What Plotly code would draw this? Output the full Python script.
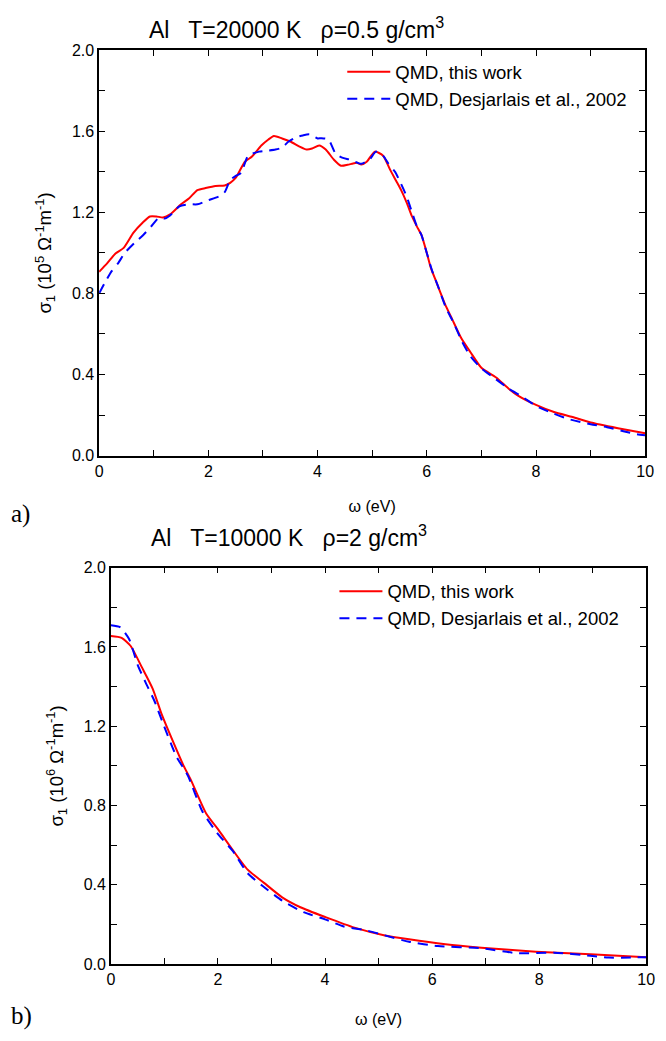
import plotly.graph_objects as go

# ---------------- data ----------------
# (a) Al, T=20000 K, rho=0.5 g/cm3 ; sigma1 in 1e5 Ohm^-1 m^-1
a_red_x = [0, 0.15, 0.3, 0.45, 0.63, 0.8, 0.93, 1.05, 1.17, 1.3, 1.5, 1.65, 1.8, 1.95, 2.13, 2.3,
           2.4, 2.5, 2.67, 2.8, 2.97, 3.1, 3.2, 3.35, 3.5, 3.67, 3.8, 3.9, 4.03, 4.15, 4.3, 4.43,
           4.55, 4.63, 4.72, 4.8, 4.9, 5.05, 5.2, 5.33, 5.45, 5.53, 5.63, 5.73, 5.82, 5.9, 6.0,
           6.07, 6.17, 6.33, 6.47, 6.63, 6.8, 7.0, 7.27, 7.5, 7.67, 8.0, 8.33, 8.67, 9.0, 9.5, 10]
a_red_y = [0.907, 0.95, 0.997, 1.025, 1.10, 1.15, 1.18, 1.18, 1.175, 1.19, 1.24, 1.27, 1.31, 1.32,
           1.33, 1.333, 1.346, 1.37, 1.45, 1.476, 1.53, 1.56, 1.577, 1.565, 1.55, 1.525, 1.51,
           1.515, 1.53, 1.51, 1.46, 1.43, 1.435, 1.44, 1.445, 1.436, 1.45, 1.50, 1.48, 1.41, 1.35,
           1.31, 1.25, 1.18, 1.13, 1.09, 1.0, 0.93, 0.86, 0.75, 0.67, 0.58, 0.51, 0.433, 0.385,
           0.33, 0.296, 0.25, 0.215, 0.19, 0.163, 0.135, 0.11]
a_blue_x = [0, 0.1, 0.23, 0.35, 0.47, 0.65, 0.8, 0.95, 1.1, 1.2, 1.3, 1.47, 1.65, 1.8, 2.0, 2.2,
            2.3, 2.4, 2.5, 2.6, 2.73, 2.93, 3.1, 3.23, 3.35, 3.47, 3.6, 3.73, 3.85, 4.0, 4.07, 4.2,
            4.33, 4.45, 4.6, 4.8, 4.95, 5.07, 5.2, 5.3, 5.42, 5.53, 5.63, 5.73, 5.82, 5.9, 6.0,
            6.1, 6.2, 6.35, 6.5, 6.65, 6.8, 7.0, 7.25, 7.5, 7.75, 8.0, 8.3, 8.6, 9.0, 9.3, 9.6,
            9.85, 10]
a_blue_y = [0.80, 0.85, 0.91, 0.95, 1.0, 1.05, 1.086, 1.13, 1.175, 1.17, 1.185, 1.23, 1.24, 1.24,
            1.26, 1.28, 1.30, 1.36, 1.38, 1.395, 1.48, 1.50, 1.505, 1.51, 1.52, 1.55, 1.57, 1.58,
            1.585, 1.565, 1.566, 1.56, 1.49, 1.47, 1.46, 1.44, 1.46, 1.50, 1.48, 1.44, 1.40, 1.34,
            1.28, 1.20, 1.13, 1.09, 1.0, 0.91, 0.84, 0.73, 0.65, 0.56, 0.49, 0.43, 0.38, 0.33,
            0.29, 0.245, 0.21, 0.18, 0.155, 0.14, 0.12, 0.105, 0.10]

# (b) Al, T=10000 K, rho=2 g/cm3 ; sigma1 in 1e6 Ohm^-1 m^-1
b_red_x = [0, 0.2, 0.37, 0.58, 0.78, 0.95, 1.15, 1.36, 1.5, 1.78, 2.01, 2.25, 2.55, 2.86, 3.2,
           3.54, 4.01, 4.55, 5.1, 5.57, 6.25, 6.92, 7.94, 8.96, 10]
b_red_y = [1.655, 1.646, 1.605, 1.497, 1.39, 1.26, 1.13, 1.0, 0.926, 0.76, 0.677, 0.586, 0.478,
           0.41, 0.337, 0.287, 0.237, 0.184, 0.146, 0.125, 0.10, 0.083, 0.063, 0.05, 0.035]
b_blue_x = [0, 0.17, 0.34, 0.5, 0.65, 0.81, 0.98, 1.22, 1.44, 1.71, 2.01, 2.28, 2.55, 2.83, 3.2,
            3.6, 4.0, 4.35, 4.76, 5.1, 5.57, 6.11, 6.92, 7.6, 8.28, 8.96, 9.3, 10]
b_blue_y = [1.71, 1.70, 1.64, 1.51, 1.42, 1.33, 1.21, 1.05, 0.95, 0.77, 0.653, 0.57, 0.46, 0.395,
            0.32, 0.262, 0.226, 0.19, 0.171, 0.146, 0.113, 0.091, 0.08, 0.055, 0.058, 0.042,
            0.033, 0.035]

series_names = ["QMD, this work", "QMD, Desjarlais et al., 2002"]
x_tickvals = [0, 2, 4, 6, 8, 10]
x_ticktext = ["0", "2", "4", "6", "8", "10"]
y_tickvals = [0.0, 0.4, 0.8, 1.2, 1.6, 2.0]
y_ticktext = ["0.0", "0.4", "0.8", "1.2", "1.6", "2.0"]

title_a = "Al   T=20000 K   \u03c1=0.5 g/cm<sup>3</sup>"
title_b = "Al   T=10000 K   \u03c1=2 g/cm<sup>3</sup>"
ytitle_a = "\u03c3<sub>1</sub> (10<sup>5</sup> \u03a9<sup>-1</sup>m<sup>-1</sup>)"
ytitle_b = "\u03c3<sub>1</sub> (10<sup>6</sup> \u03a9<sup>-1</sup>m<sup>-1</sup>)"
xtitle = "\u03c9 (eV)"

# ---------------- figure ----------------
W, H = 666, 1041
FONT = "Liberation Sans, Arial, sans-serif"
SERIF = "Liberation Serif, Times New Roman, serif"
RED = "#ff0000"
BLUE = "#0000ff"
DASH = "10px,7px"

fig = go.Figure()
fig.add_trace(go.Scatter(x=a_red_x, y=a_red_y, mode="lines", name=series_names[0],
                         line=dict(color=RED, width=2, shape="spline", smoothing=0.6),
                         xaxis="x", yaxis="y", legend="legend"))
fig.add_trace(go.Scatter(x=a_blue_x, y=a_blue_y, mode="lines", name=series_names[1],
                         line=dict(color=BLUE, width=2, dash=DASH, shape="spline", smoothing=0.6),
                         xaxis="x", yaxis="y", legend="legend"))
fig.add_trace(go.Scatter(x=b_red_x, y=b_red_y, mode="lines", name=series_names[0],
                         line=dict(color=RED, width=2, shape="spline", smoothing=0.6),
                         xaxis="x2", yaxis="y2", legend="legend2"))
fig.add_trace(go.Scatter(x=b_blue_x, y=b_blue_y, mode="lines", name=series_names[1],
                         line=dict(color=BLUE, width=2, dash=DASH, shape="spline", smoothing=0.6),
                         xaxis="x2", yaxis="y2", legend="legend2"))


def px_x(p):
    return p / W


def px_y(p):
    return 1 - p / H


axis_common = dict(showline=True, linecolor="black", linewidth=1.5, mirror="allticks",
                   ticks="inside", ticklen=6, tickwidth=1, tickcolor="black",
                   showgrid=False, zeroline=False,
                   tickfont=dict(family=FONT, size=16, color="black"))

minor_x = dict(dtick=1, ticks="inside", ticklen=6, tickwidth=1, tickcolor="black", showgrid=False)
minor_y = dict(dtick=0.2, ticks="inside", ticklen=6, tickwidth=1, tickcolor="black", showgrid=False)

xa = dict(axis_common, range=[0, 10], tickmode="array", tickvals=x_tickvals, ticktext=x_ticktext,
          minor=minor_x)
ya = dict(axis_common, range=[0, 2], tickmode="array", tickvals=y_tickvals, ticktext=y_ticktext,
          minor=minor_y)

legend_common = dict(xanchor="left", yanchor="top", bgcolor="rgba(0,0,0,0)",
                     font=dict(family=FONT, size=18.5, color="black"), tracegroupgap=0, itemwidth=43)

# panel a: x 97..654, y 43..455 ; panel b: x 109..655, y 569..972
fig.update_layout(
    width=W, height=H, margin=dict(l=0, r=0, t=0, b=0),
    paper_bgcolor="white", plot_bgcolor="white",
    font=dict(family=FONT, color="black"),
    xaxis=dict(xa, domain=[px_x(97), px_x(654)], anchor="y",
               title=dict(text=xtitle, font=dict(family=FONT, size=16, color="black"), standoff=22)),
    yaxis=dict(ya, domain=[px_y(455), px_y(43)], anchor="x",
               title=dict(text=ytitle_a, font=dict(family=FONT, size=18.5, color="black"), standoff=15)),
    xaxis2=dict(xa, domain=[px_x(109), px_x(655)], anchor="y2",
                title=dict(text=xtitle, font=dict(family=FONT, size=16, color="black"), standoff=27)),
    yaxis2=dict(ya, domain=[px_y(972), px_y(569)], anchor="x2",
                title=dict(text=ytitle_b, font=dict(family=FONT, size=18.5, color="black"), standoff=15)),
    legend=dict(legend_common, x=px_x(345), y=px_y(46)),
    legend2=dict(legend_common, x=px_x(337), y=px_y(574)),
    showlegend=True,
)

fig.add_annotation(text=title_a, x=px_x(298), y=px_y(20), xref="paper", yref="paper",
                   xanchor="center", yanchor="middle",
                   showarrow=False, font=dict(family=FONT, size=23, color="black"))
fig.add_annotation(text=title_b, x=px_x(291), y=px_y(537), xref="paper", yref="paper",
                   xanchor="center", yanchor="middle",
                   showarrow=False, font=dict(family=FONT, size=23, color="black"))
fig.add_annotation(text="a)", x=px_x(5), y=px_y(514), xref="paper", yref="paper",
                   xanchor="left", yanchor="middle",
                   showarrow=False, font=dict(family=SERIF, size=25, color="black"))
fig.add_annotation(text="b)", x=px_x(5), y=px_y(1025), xref="paper", yref="paper",
                   xanchor="left", yanchor="middle",
                   showarrow=False, font=dict(family=SERIF, size=25, color="black"))

fig.write_html("out.html")
